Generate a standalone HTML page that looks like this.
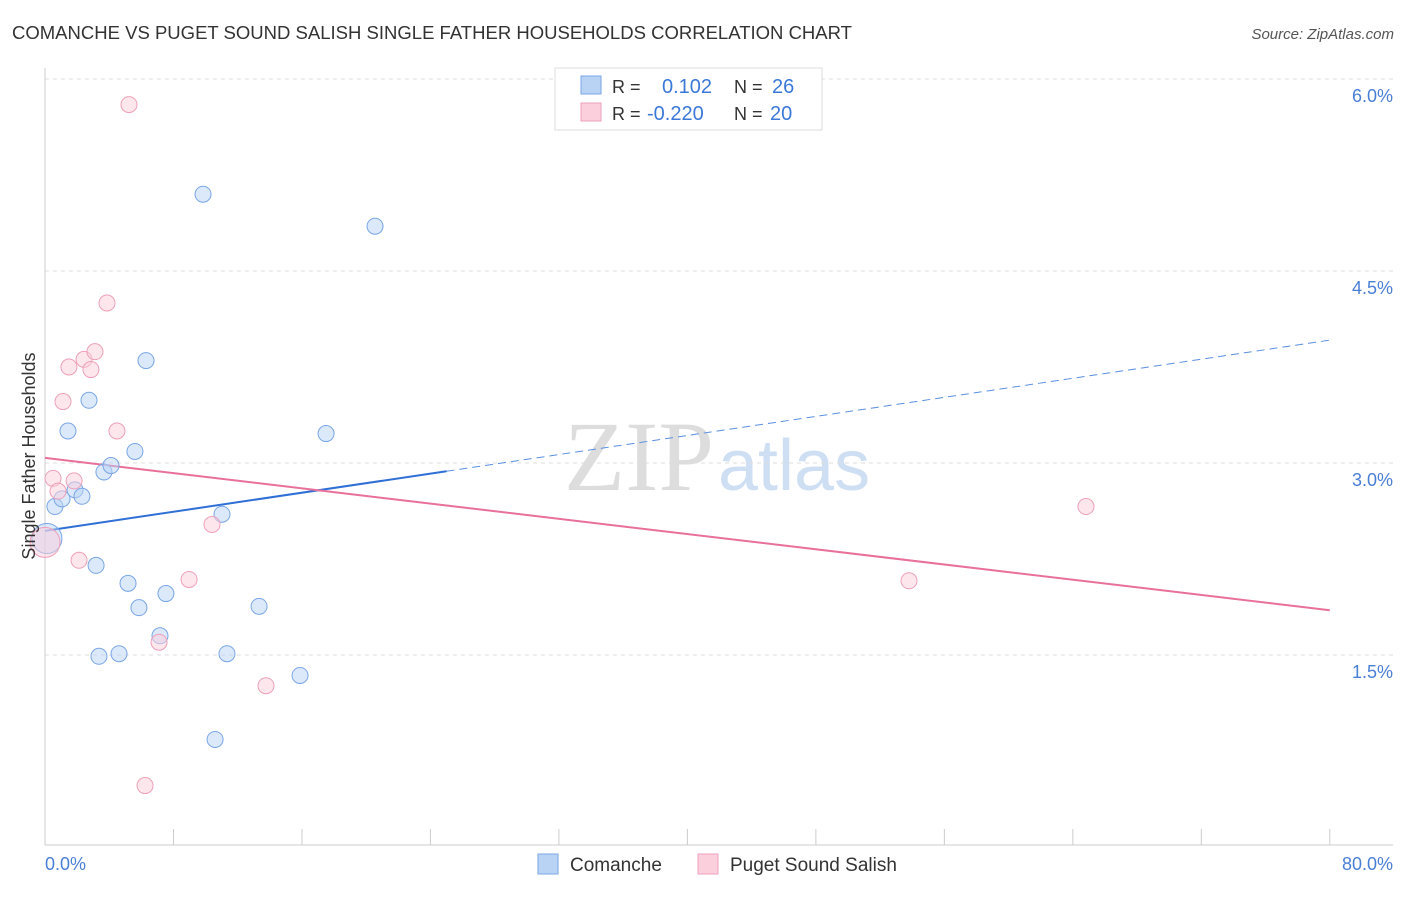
<!DOCTYPE html>
<html><head><meta charset="utf-8"><style>
body{margin:0;background:#fff;font-family:"Liberation Sans",sans-serif}
</style></head><body>
<svg width="1406" height="892" xmlns="http://www.w3.org/2000/svg" font-family="Liberation Sans, sans-serif">
<text x="12" y="39" font-size="18.5" fill="#333" textLength="840" lengthAdjust="spacingAndGlyphs">COMANCHE VS PUGET SOUND SALISH SINGLE FATHER HOUSEHOLDS CORRELATION CHART</text>
<text x="1394" y="39" font-size="15" fill="#555" font-style="italic" text-anchor="end">Source: ZipAtlas.com</text>
<text x="714" y="490" font-size="100" fill="#ddd" text-anchor="end" font-family="Liberation Serif, serif">ZIP</text>
<text x="718" y="490" font-size="72" fill="#cfdff3">atlas</text>
<g id="grid"></g>
<g id="axes"></g>
<g id="lines"></g>
<g id="pts"></g>
<text x="35" y="456" font-size="18" fill="#333" text-anchor="middle" transform="rotate(-90 35 456)">Single Father Households</text>
<text x="45" y="870" font-size="18" fill="#4a7fd6">0.0%</text>
<text x="1393" y="870" font-size="18" fill="#4a7fd6" text-anchor="end">80.0%</text>
<g>
<rect x="555" y="68" width="267" height="62" fill="#fff" stroke="#ddd"/>
<rect x="581" y="76" width="20" height="18" fill="#b9d3f5" stroke="#7aa6e6"/>
<rect x="581" y="103" width="20" height="18" fill="#fbcfdc" stroke="#eea0b8"/>
<text x="612" y="93" font-size="18" fill="#333">R =</text><text x="662" y="93" font-size="20" fill="#3b78d8">0.102</text>
<text x="734" y="93" font-size="18" fill="#333">N =</text><text x="772" y="93" font-size="20" fill="#3b78d8">26</text>
<text x="612" y="120" font-size="18" fill="#333">R =</text><text x="647" y="120" font-size="20" fill="#3b78d8">-0.220</text>
<text x="734" y="120" font-size="18" fill="#333">N =</text><text x="770" y="120" font-size="20" fill="#3b78d8">20</text>
</g>
<g>
<rect x="538" y="854" width="20" height="20" fill="#b9d3f5" stroke="#7aa6e6"/>
<text x="570" y="871" font-size="19" fill="#333">Comanche</text>
<rect x="698" y="854" width="20" height="20" fill="#fbcfdc" stroke="#eea0b8"/>
<text x="730" y="871" font-size="19" fill="#333">Puget Sound Salish</text>
</g>
</svg>
<script>
const blueX=[0.12,0.62,1.06,1.43,1.87,2.30,2.74,3.18,3.36,3.67,4.11,4.61,5.17,5.60,5.85,6.29,7.16,7.53,9.84,10.59,11.02,11.33,13.33,15.88,17.50,20.55];
const blueY=[2.41,2.66,2.72,3.25,2.79,2.74,3.49,2.20,1.49,2.93,2.98,1.51,2.06,3.09,1.87,3.80,1.65,1.98,5.10,0.84,2.60,1.51,1.88,1.34,3.23,4.85];
const pinkX=[0.0,0.50,0.81,1.12,1.49,1.81,2.12,2.43,2.86,3.11,3.86,4.48,5.23,6.23,7.10,8.97,10.40,13.76,53.80,64.82];
const pinkY=[2.38,2.88,2.78,3.48,3.75,2.86,2.24,3.81,3.73,3.87,4.25,3.25,5.80,0.48,1.60,2.09,2.52,1.26,2.08,2.66];
const blueTrend=[2.47,3.96]; const pinkTrend=[3.04,1.85];
const yTicks=[1.5,3.0,4.5,6.0]; const yTickLabels=["1.5%","3.0%","4.5%","6.0%"];
const xTicks=[0,8,16,24,32,40,48,56,64,72,80];
const NS="http://www.w3.org/2000/svg";
const sx=v=>45+v*16.06, sy=v=>847-v*128;
function mk(p,t,a){const e=document.createElementNS(NS,t);for(const k in a)e.setAttribute(k,a[k]);document.getElementById(p).appendChild(e);return e;}
yTicks.forEach((t,i)=>{
 const l=mk('grid','line',{x1:45,x2:1393,y1:sy(t),y2:sy(t),stroke:'#ddd','stroke-dasharray':'4,4'});
 
 
 const tx=mk('grid','text',{x:1393,y:sy(t)+23,'font-size':18,fill:'#4a7fd6','text-anchor':'end'});
 tx.textContent=yTickLabels[i];
 
 
});
const ax=mk('axes','line',{x1:45,x2:45,y1:68,y2:845,stroke:'#ccc'});


const bx=mk('axes','line',{x1:45,x2:1393,y1:845,y2:845,stroke:'#ccc'});


xTicks.forEach(t=>{const l=mk('axes','line',{x1:sx(t),x2:sx(t),y1:829,y2:845,stroke:'#ccc'});
 
 });
let l1=mk('lines','line',{x1:sx(0),y1:sy(blueTrend[0]),x2:sx(25),y2:sy(blueTrend[0]+(blueTrend[1]-blueTrend[0])*25/80),stroke:'#2f6fd6','stroke-width':2});


let l2=mk('lines','line',{x1:sx(25),y1:sy(blueTrend[0]+(blueTrend[1]-blueTrend[0])*25/80),x2:sx(80),y2:sy(blueTrend[1]),stroke:'#5a8fe0','stroke-width':1,'stroke-dasharray':'8,5'});


let l3=mk('lines','line',{x1:sx(0),y1:sy(pinkTrend[0]),x2:sx(80),y2:sy(pinkTrend[1]),stroke:'#e8709a','stroke-width':2});


function pts(X,Y,f,s,n){X.forEach((x,i)=>{const c=mk('pts','circle',{cx:sx(x),cy:sy(Y[i]),r:i===0&&x<0.2?15:8,fill:f,'fill-opacity':0.5,stroke:s,'stroke-width':1});
 
 });}
pts(blueX,blueY,'#b9d3f5','#7aa6e6','comanche-point');
pts(pinkX,pinkY,'#fbcfdc','#eea0b8','puget-point');
</script>
</body></html>
